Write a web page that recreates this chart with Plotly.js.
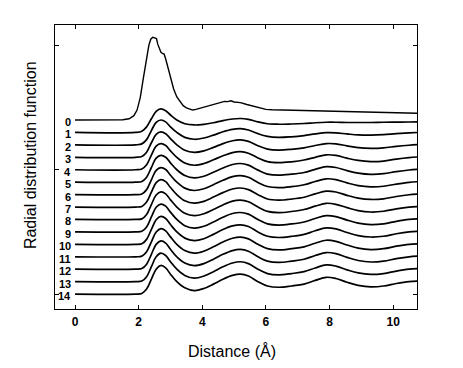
<!DOCTYPE html>
<html>
<head>
<meta charset="utf-8">
<script src="https://cdn.plot.ly/plotly-3.0.1.min.js"></script>
<style>
  body { margin: 0; background: #fff; }
  #plot { width: 463px; height: 368px; }
</style>
</head>
<body>
<div id="plot"></div>
<script>
// curve labels (top to bottom)
var curveLabels = ['0','1','2','3','4','5','6','7','8','9','10','11','12','13','14'];

// curve 0 : noisy first trace
var r0 = [0, 1.5, 1.7, 1.85, 1.95, 2.05, 2.15, 2.25, 2.32, 2.38, 2.44, 2.5, 2.56, 2.6, 2.65, 2.7, 2.75, 2.8, 2.85, 2.9,
          3.0, 3.1, 3.2, 3.3, 3.4, 3.5, 3.6, 3.7, 3.8, 3.9, 4.0, 4.1, 4.2, 4.3, 4.4, 4.5, 4.6, 4.7, 4.8, 4.9,
          5.0, 5.2, 5.4, 5.6, 5.8, 6.0, 6.2, 6.5, 6.8, 7.1, 7.4, 7.7, 8.0, 8.3, 8.6, 8.9, 9.2, 9.5, 9.8, 10.1, 10.4, 10.8];
var g0 = [0, 0.02, 0.1, 0.35, 0.8, 1.8, 3.4, 5.0, 6.0, 6.5, 6.65, 6.6, 6.55, 6.1, 5.7, 5.45, 5.35, 5.3, 4.9, 4.4,
          3.4, 2.5, 1.85, 1.5, 1.15, 0.98, 0.88, 0.8, 0.85, 0.92, 1.02, 1.1, 1.12, 1.22, 1.3, 1.35, 1.45, 1.5, 1.48, 1.55,
          1.45, 1.4, 1.25, 1.12, 0.95, 0.85, 0.82, 0.8, 0.78, 0.8, 0.77, 0.78, 0.76, 0.72, 0.7, 0.68, 0.66, 0.62, 0.6, 0.58, 0.56, 0.54];

// distance grid for curves 1-14
var r = [0, 1.9, 2.1, 2.25, 2.4, 2.55, 2.7, 2.85, 3.0, 3.2, 3.45, 3.75, 4.05, 4.35, 4.65, 4.95, 5.2,
         5.45, 5.75, 6.05, 6.4, 6.8, 7.2, 7.55, 7.9, 8.2, 8.55, 8.9, 9.3, 9.7, 10.1, 10.5, 10.8];

var g1  = [0,0,0.1,0.45,1.1,1.7,1.9,1.75,1.4,1.0,0.7,0.6,0.65,0.78,0.95,1.08,1.12,1.05,0.85,0.7,0.66,0.68,0.72,0.78,0.82,0.82,0.8,0.8,0.8,0.82,0.83,0.84,0.85];
var g2  = [0,0,0.08,0.42,1.15,1.8,2.0,1.85,1.45,1.0,0.6,0.45,0.55,0.78,1.05,1.25,1.3,1.2,0.9,0.68,0.6,0.65,0.75,0.88,0.98,0.97,0.88,0.8,0.78,0.82,0.9,0.96,1.0];
var g3  = [0,0,0.07,0.41,1.17,1.85,2.05,1.9,1.5,1.0,0.56,0.4,0.52,0.8,1.1,1.33,1.4,1.28,0.93,0.66,0.58,0.64,0.76,0.95,1.1,1.08,0.92,0.78,0.72,0.76,0.88,0.97,1.02];
var g4  = [0,0,0.06,0.4,1.18,1.9,2.1,1.95,1.52,1.0,0.54,0.36,0.5,0.8,1.12,1.38,1.45,1.33,0.95,0.65,0.57,0.64,0.78,1.0,1.2,1.15,0.93,0.75,0.66,0.7,0.86,0.98,1.03];
var g5  = [0,0,0.06,0.4,1.18,1.93,2.15,2.0,1.55,1.0,0.53,0.34,0.48,0.8,1.14,1.42,1.5,1.37,0.97,0.65,0.56,0.64,0.78,1.03,1.25,1.18,0.93,0.73,0.63,0.68,0.85,0.98,1.03];
var g6  = [0,0,0.05,0.4,1.19,1.95,2.17,2.02,1.56,1.0,0.52,0.33,0.47,0.8,1.15,1.44,1.52,1.39,0.98,0.65,0.56,0.64,0.79,1.05,1.27,1.2,0.94,0.72,0.62,0.67,0.85,0.99,1.04];
var g7  = [0,0,0.05,0.4,1.2,1.96,2.2,2.04,1.57,1.0,0.51,0.32,0.46,0.8,1.16,1.45,1.53,1.4,0.99,0.65,0.56,0.64,0.79,1.06,1.28,1.21,0.94,0.72,0.61,0.66,0.85,0.99,1.04];
var g8  = [0,0,0.05,0.4,1.2,1.97,2.22,2.06,1.58,1.0,0.5,0.31,0.46,0.8,1.17,1.47,1.55,1.42,1.0,0.65,0.55,0.64,0.8,1.07,1.3,1.22,0.95,0.71,0.6,0.66,0.85,0.99,1.04];
var g9  = [0,0,0.05,0.4,1.2,1.98,2.24,2.07,1.59,1.0,0.5,0.3,0.45,0.8,1.18,1.48,1.56,1.43,1.0,0.65,0.55,0.64,0.8,1.08,1.31,1.23,0.95,0.71,0.59,0.65,0.85,1.0,1.05];
var g10 = [0,0,0.05,0.4,1.2,1.98,2.25,2.08,1.59,1.0,0.5,0.3,0.45,0.8,1.19,1.48,1.57,1.44,1.0,0.65,0.55,0.64,0.8,1.09,1.32,1.24,0.95,0.7,0.59,0.65,0.85,1.0,1.05];
var g11 = [0,0,0.05,0.4,1.2,1.99,2.27,2.09,1.6,1.0,0.5,0.29,0.45,0.8,1.19,1.49,1.58,1.44,1.0,0.65,0.55,0.65,0.8,1.09,1.33,1.24,0.95,0.7,0.58,0.65,0.85,1.0,1.05];
var g12 = [0,0,0.05,0.4,1.2,2.0,2.28,2.1,1.6,1.0,0.5,0.29,0.45,0.8,1.2,1.5,1.59,1.45,1.0,0.65,0.55,0.65,0.8,1.1,1.34,1.25,0.95,0.7,0.58,0.65,0.85,1.0,1.05];
var g13 = [0,0,0.05,0.4,1.2,2.0,2.29,2.1,1.6,1.0,0.5,0.28,0.45,0.8,1.2,1.5,1.6,1.45,1.0,0.65,0.55,0.65,0.8,1.1,1.35,1.25,0.95,0.7,0.58,0.65,0.85,1.0,1.05];
var g14 = [0,0,0.05,0.4,1.2,2.0,2.3,2.1,1.6,1.0,0.5,0.28,0.45,0.8,1.2,1.5,1.6,1.45,1.0,0.65,0.55,0.65,0.8,1.1,1.35,1.25,0.95,0.7,0.58,0.65,0.85,1.0,1.05];

var xTicks = [0, 2, 4, 6, 8, 10];

var curves = [g1, g2, g3, g4, g5, g6, g7, g8, g9, g10, g11, g12, g13, g14];
var nCurves = curveLabels.length;

var data = [];
data.push({
    x: r0,
    y: g0.map(function (v) { return v + (nCurves - 1); }),
    mode: 'lines',
    line: {color: '#000', width: 1.4},
    hoverinfo: 'skip'
});
curves.forEach(function (g, i) {
    var offset = nCurves - 2 - i;
    data.push({
        x: r,
        y: g.map(function (v) { return v + offset; }),
        mode: 'lines',
        line: {color: '#000', width: 1.7, shape: 'spline', smoothing: 1},
        hoverinfo: 'skip'
    });
});

var annotations = curveLabels.map(function (lab, i) {
    return {
        x: -0.1, y: nCurves - 1 - i, xref: 'x', yref: 'y',
        text: lab, showarrow: false, xanchor: 'right', yanchor: 'middle', yshift: -2,
        borderpad: 0,
        font: {family: 'Liberation Sans, Arial, sans-serif', size: 11, color: '#000', weight: 'bold'}
    };
});
annotations.push({
    x: -0.069, y: 0.542, xref: 'paper', yref: 'paper',
    text: 'Radial distribution function', textangle: -90, showarrow: false,
    xanchor: 'center', yanchor: 'middle',
    font: {family: 'Liberation Sans, Arial, sans-serif', size: 16, color: '#000'}
});
annotations.push({
    x: 0.4876, y: -0.148, xref: 'paper', yref: 'paper',
    text: 'Distance (Å)', showarrow: false, xanchor: 'center', yanchor: 'middle',
    font: {family: 'Liberation Sans, Arial, sans-serif', size: 16, color: '#000'}
});

var layout = {
    width: 463, height: 368,
    margin: {l: 55, r: 46, t: 25, b: 59},
    paper_bgcolor: '#fff', plot_bgcolor: '#fff',
    showlegend: false,
    xaxis: {
        range: [-0.63, 10.75], tickvals: xTicks, ticktext: xTicks.map(String),
        ticks: 'inside', ticklen: 4, tickcolor: '#000', mirror: 'ticks',
        showline: true, linecolor: '#000', linewidth: 1, showgrid: false, zeroline: false,
        ticklabelstandoff: 2,
        tickfont: {family: 'Liberation Sans, Arial, sans-serif', size: 12, color: '#000', weight: 'bold'}
    },
    yaxis: {
        range: [-1.2, 21.64], tickvals: [0, 10, 20], showticklabels: false,
        ticks: 'inside', ticklen: 4, tickcolor: '#000', mirror: 'ticks',
        showline: true, linecolor: '#000', linewidth: 1, showgrid: false, zeroline: false
    },
    annotations: annotations
};

Plotly.newPlot('plot', data, layout, {displayModeBar: false, staticPlot: true});
</script>
</body>
</html>
